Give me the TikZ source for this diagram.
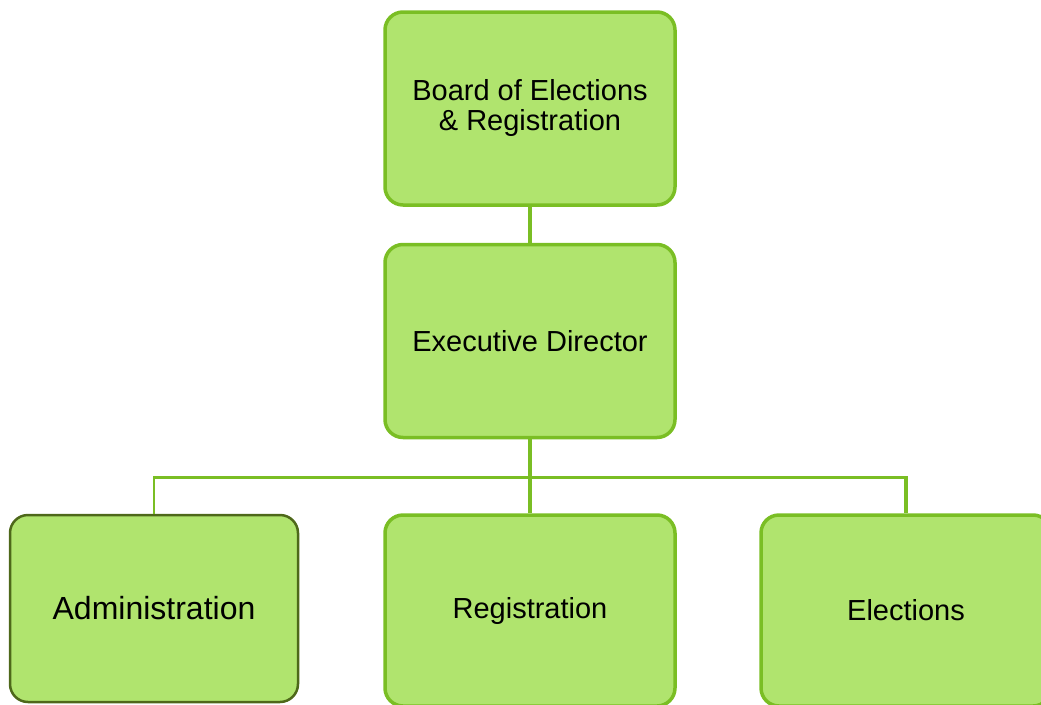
\documentclass[tikz,border=0pt]{standalone}
\usepackage{fontspec}
\setmainfont{Liberation Sans}
\usetikzlibrary{positioning}

\definecolor{boxfill}{RGB}{176,228,110}
\definecolor{boxline}{RGB}{122,190,36}
\definecolor{darkline}{RGB}{78,104,26}

\begin{document}
\begin{tikzpicture}[x=1pt,y=-1pt,
  unitbox/.style={draw=boxline, line width=3.5pt, fill=boxfill, rounded corners=18pt,
    minimum width=290pt, minimum height=193pt, align=center,
    font=\fontsize{29}{30}\selectfont, text=black},
  link/.style={draw=boxline, line width=3.5pt}]

\useasboundingbox (0,0) rectangle (1041,704);
\clip (0,0) rectangle (1041,704);

% top level
\node[unitbox] (board) at (530,108.5) {Board of Elections\\\& Registration};
\node[unitbox] (exec) at (530,341) {Executive Director};

% departments
\node[unitbox, minimum width=288pt, minimum height=187pt, draw=darkline, line width=2.5pt,
  font=\fontsize{32}{34}\selectfont] (admin) at (154,608.5) {Administration};
\node[unitbox, minimum height=191pt] (reg) at (530,610.5) {Registration};
\node[unitbox, minimum height=191pt] (elec) at (906,610.5) {Elections};

% connectors
\coordinate (bus) at (530,477.5);
\draw[link] (board) -- (exec);
\draw[link] (exec) -- (reg);
\draw[link, line width=2.5pt] (bus) -| (admin);
\draw[link] (bus) -| (elec);

\end{tikzpicture}
\end{document}
